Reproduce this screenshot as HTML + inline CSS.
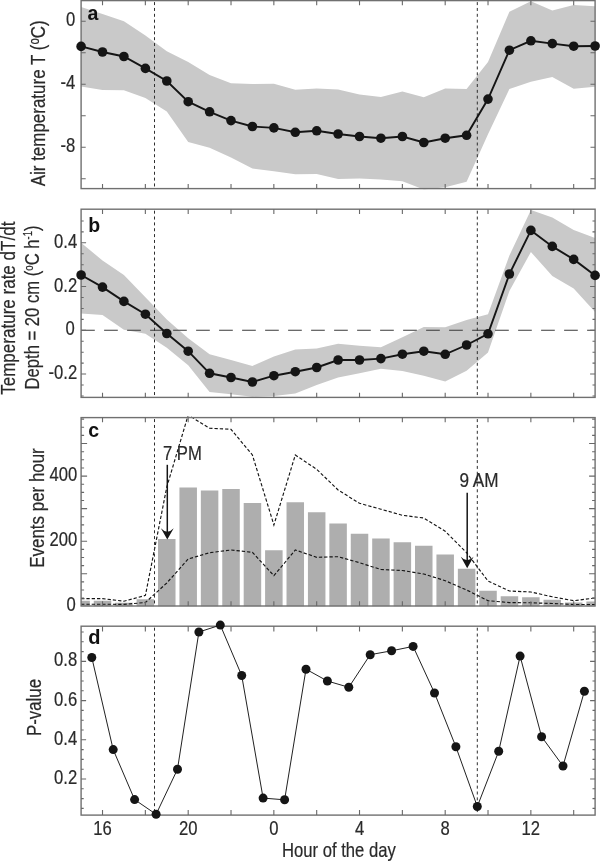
<!DOCTYPE html>
<html><head><meta charset="utf-8"><title>Figure</title>
<style>
html,body{margin:0;padding:0;background:#fff;}
svg{display:block;font-family:"Liberation Sans",sans-serif;fill:#2a2a2a;}
</style></head><body>
<svg width="600" height="861" viewBox="0 0 600 861">
<rect width="600" height="861" fill="#fff"/>
<defs>
<clipPath id="c0"><rect x="81.1" y="-0.9" width="514.0" height="190.5"/></clipPath>
<clipPath id="c1"><rect x="81.1" y="207.7" width="514.0" height="190.7"/></clipPath>
<clipPath id="c2"><rect x="81.1" y="416.1" width="514.0" height="190.89999999999998"/></clipPath>
<clipPath id="c3"><rect x="81.1" y="624.7" width="514.0" height="191.39999999999998"/></clipPath>
</defs>
<polygon clip-path="url(#c0)" fill="#c9c9c9" points="81.1,7.0 102.5,14.0 123.9,21.3 145.4,35.5 166.8,51.3 188.2,62.0 209.6,75.0 231.0,83.2 252.4,84.0 273.9,83.8 295.3,89.7 316.7,88.5 338.1,89.6 359.5,94.5 380.9,96.9 402.4,91.5 423.8,97.3 445.2,88.5 466.6,89.0 488.0,61.9 509.4,11.7 530.9,1.2 552.3,10.5 573.7,5.1 595.1,6.3 595.1,86.8 573.7,88.7 552.3,77.0 530.9,81.7 509.4,88.9 488.0,134.3 466.6,181.8 445.2,187.2 423.8,189.5 402.4,181.3 380.9,179.5 359.5,178.5 338.1,179.0 316.7,173.9 295.3,174.3 273.9,171.3 252.4,168.6 231.0,157.5 209.6,147.8 188.2,142.0 166.8,111.6 145.4,98.0 123.9,90.3 102.5,90.0 81.1,86.5"/>
<path d="M154.5 0.6V188.6" stroke="#2e2e2e" stroke-width="1" stroke-dasharray="3 2.85" stroke-dashoffset="-1.5" fill="none"/>
<path d="M477.3 0.6V188.6" stroke="#2e2e2e" stroke-width="1" stroke-dasharray="3 2.85" stroke-dashoffset="-1.5" fill="none"/>
<rect x="81.1" y="0.6" width="514.0" height="188.0" fill="none" stroke="#707070" stroke-width="1.4"/>
<path d="M102.52 0.6v4.7M102.52 188.6v-4.7M145.35 0.6v4.7M145.35 188.6v-4.7M188.19 0.6v4.7M188.19 188.6v-4.7M231.02 0.6v4.7M231.02 188.6v-4.7M273.85 0.6v4.7M273.85 188.6v-4.7M316.69 0.6v4.7M316.69 188.6v-4.7M359.52 0.6v4.7M359.52 188.6v-4.7M402.36 0.6v4.7M402.36 188.6v-4.7M445.19 0.6v4.7M445.19 188.6v-4.7M488.02 0.6v4.7M488.02 188.6v-4.7M530.86 0.6v4.7M530.86 188.6v-4.7M573.69 0.6v4.7M573.69 188.6v-4.7" stroke="#686868" stroke-width="1.1" fill="none"/>
<path d="M81.1 21.30h4.6M595.1 21.30h-4.6M81.1 52.80h4.6M595.1 52.80h-4.6M81.1 84.30h4.6M595.1 84.30h-4.6M81.1 115.80h4.6M595.1 115.80h-4.6M81.1 147.30h4.6M595.1 147.30h-4.6M81.1 178.80h4.6M595.1 178.80h-4.6" stroke="#686868" stroke-width="1.1" fill="none"/>
<polyline fill="none" stroke="#151515" stroke-width="1.9" points="81.1,46.4 102.5,52.0 123.9,56.5 145.4,68.4 166.8,81.0 188.2,101.7 209.6,111.8 231.0,120.6 252.4,126.5 273.9,127.9 295.3,132.3 316.7,130.8 338.1,134.0 359.5,136.5 380.9,138.2 402.4,136.5 423.8,142.5 445.2,138.2 466.6,135.3 488.0,99.1 509.4,50.2 530.9,40.8 552.3,43.6 573.7,46.2 595.1,46.0"/>
<circle cx="81.1" cy="46.4" r="4.8" fill="#151515"/>
<circle cx="102.5" cy="52.0" r="4.8" fill="#151515"/>
<circle cx="123.9" cy="56.5" r="4.8" fill="#151515"/>
<circle cx="145.4" cy="68.4" r="4.8" fill="#151515"/>
<circle cx="166.8" cy="81.0" r="4.8" fill="#151515"/>
<circle cx="188.2" cy="101.7" r="4.8" fill="#151515"/>
<circle cx="209.6" cy="111.8" r="4.8" fill="#151515"/>
<circle cx="231.0" cy="120.6" r="4.8" fill="#151515"/>
<circle cx="252.4" cy="126.5" r="4.8" fill="#151515"/>
<circle cx="273.9" cy="127.9" r="4.8" fill="#151515"/>
<circle cx="295.3" cy="132.3" r="4.8" fill="#151515"/>
<circle cx="316.7" cy="130.8" r="4.8" fill="#151515"/>
<circle cx="338.1" cy="134.0" r="4.8" fill="#151515"/>
<circle cx="359.5" cy="136.5" r="4.8" fill="#151515"/>
<circle cx="380.9" cy="138.2" r="4.8" fill="#151515"/>
<circle cx="402.4" cy="136.5" r="4.8" fill="#151515"/>
<circle cx="423.8" cy="142.5" r="4.8" fill="#151515"/>
<circle cx="445.2" cy="138.2" r="4.8" fill="#151515"/>
<circle cx="466.6" cy="135.3" r="4.8" fill="#151515"/>
<circle cx="488.0" cy="99.1" r="4.8" fill="#151515"/>
<circle cx="509.4" cy="50.2" r="4.8" fill="#151515"/>
<circle cx="530.9" cy="40.8" r="4.8" fill="#151515"/>
<circle cx="552.3" cy="43.6" r="4.8" fill="#151515"/>
<circle cx="573.7" cy="46.2" r="4.8" fill="#151515"/>
<circle cx="595.1" cy="46.0" r="4.8" fill="#151515"/>
<text transform="translate(75.20,26.30) scale(0.8,1)" font-size="20.8" text-anchor="end" stroke="#2a2a2a" stroke-width="0.22">0</text>
<text transform="translate(75.20,89.30) scale(0.8,1)" font-size="20.8" text-anchor="end" stroke="#2a2a2a" stroke-width="0.22">-4</text>
<text transform="translate(75.20,152.30) scale(0.8,1)" font-size="20.8" text-anchor="end" stroke="#2a2a2a" stroke-width="0.22">-8</text>
<text transform="translate(87.60,19.70) scale(1,1)" font-size="19.5" text-anchor="start" font-weight="bold" fill="#111">a</text>
<text transform="translate(45.20,186.30) rotate(-90) scale(0.816,1)" font-size="20.8" text-anchor="start" stroke="#2a2a2a" stroke-width="0.22">Air temperature T (<tspan font-size="14" dy="-6">o</tspan><tspan dy="6">C)</tspan></text>
<polygon clip-path="url(#c1)" fill="#c9c9c9" points="81.1,242.8 102.5,260.5 123.9,275.0 145.4,297.2 166.8,319.5 188.2,338.3 209.6,354.2 231.0,360.0 252.4,365.9 273.9,356.5 295.3,349.5 316.7,348.4 338.1,343.7 359.5,345.8 380.9,347.2 402.4,337.2 423.8,327.0 445.2,327.3 466.6,320.0 488.0,314.2 509.4,255.5 530.9,210.0 552.3,217.4 573.7,230.0 595.1,238.0 595.1,312.0 573.7,288.6 552.3,276.0 530.9,252.0 509.4,291.0 488.0,352.6 466.6,370.7 445.2,381.6 423.8,375.7 402.4,371.0 380.9,368.7 359.5,373.3 338.1,377.5 316.7,385.0 295.3,393.4 273.9,396.0 252.4,396.7 231.0,394.3 209.6,392.0 188.2,365.2 166.8,347.7 145.4,333.8 123.9,329.8 102.5,315.1 81.1,313.5"/>
<path d="M81.1 330.3H595.1" stroke="#3a3a3a" stroke-width="1.1" stroke-dasharray="13.7 9.3" fill="none"/>
<path d="M154.5 209.2V397.4" stroke="#2e2e2e" stroke-width="1" stroke-dasharray="3 2.85" stroke-dashoffset="-1.5" fill="none"/>
<path d="M477.3 209.2V397.4" stroke="#2e2e2e" stroke-width="1" stroke-dasharray="3 2.85" stroke-dashoffset="-1.5" fill="none"/>
<rect x="81.1" y="209.2" width="514.0" height="188.2" fill="none" stroke="#707070" stroke-width="1.4"/>
<path d="M102.52 209.2v4.7M102.52 397.4v-4.7M145.35 209.2v4.7M145.35 397.4v-4.7M188.19 209.2v4.7M188.19 397.4v-4.7M231.02 209.2v4.7M231.02 397.4v-4.7M273.85 209.2v4.7M273.85 397.4v-4.7M316.69 209.2v4.7M316.69 397.4v-4.7M359.52 209.2v4.7M359.52 397.4v-4.7M402.36 209.2v4.7M402.36 397.4v-4.7M445.19 209.2v4.7M445.19 397.4v-4.7M488.02 209.2v4.7M488.02 397.4v-4.7M530.86 209.2v4.7M530.86 397.4v-4.7M573.69 209.2v4.7M573.69 397.4v-4.7" stroke="#686868" stroke-width="1.1" fill="none"/>
<path d="M81.1 395.93h2.6M595.1 395.93h-2.6M81.1 384.99h2.6M595.1 384.99h-2.6M81.1 363.11h2.6M595.1 363.11h-2.6M81.1 352.18h2.6M595.1 352.18h-2.6M81.1 341.24h2.6M595.1 341.24h-2.6M81.1 319.36h2.6M595.1 319.36h-2.6M81.1 308.43h2.6M595.1 308.43h-2.6M81.1 297.49h2.6M595.1 297.49h-2.6M81.1 275.61h2.6M595.1 275.61h-2.6M81.1 264.68h2.6M595.1 264.68h-2.6M81.1 253.74h2.6M595.1 253.74h-2.6M81.1 231.86h2.6M595.1 231.86h-2.6M81.1 220.93h2.6M595.1 220.93h-2.6" stroke="#686868" stroke-width="1.1" fill="none"/>
<path d="M81.1 374.05h5M595.1 374.05h-5M81.1 330.30h5M595.1 330.30h-5M81.1 286.55h5M595.1 286.55h-5M81.1 242.80h5M595.1 242.80h-5" stroke="#686868" stroke-width="1.1" fill="none"/>
<polyline fill="none" stroke="#151515" stroke-width="1.9" points="81.1,275.0 102.5,287.1 123.9,301.4 145.4,314.2 166.8,333.5 188.2,351.2 209.6,373.3 231.0,377.5 252.4,382.0 273.9,375.7 295.3,371.7 316.7,367.5 338.1,360.0 359.5,360.0 380.9,358.6 402.4,354.2 423.8,351.2 445.2,354.3 466.6,345.0 488.0,333.8 509.4,274.0 530.9,230.4 552.3,246.4 573.7,259.4 595.1,275.4"/>
<circle cx="81.1" cy="275.0" r="4.8" fill="#151515"/>
<circle cx="102.5" cy="287.1" r="4.8" fill="#151515"/>
<circle cx="123.9" cy="301.4" r="4.8" fill="#151515"/>
<circle cx="145.4" cy="314.2" r="4.8" fill="#151515"/>
<circle cx="166.8" cy="333.5" r="4.8" fill="#151515"/>
<circle cx="188.2" cy="351.2" r="4.8" fill="#151515"/>
<circle cx="209.6" cy="373.3" r="4.8" fill="#151515"/>
<circle cx="231.0" cy="377.5" r="4.8" fill="#151515"/>
<circle cx="252.4" cy="382.0" r="4.8" fill="#151515"/>
<circle cx="273.9" cy="375.7" r="4.8" fill="#151515"/>
<circle cx="295.3" cy="371.7" r="4.8" fill="#151515"/>
<circle cx="316.7" cy="367.5" r="4.8" fill="#151515"/>
<circle cx="338.1" cy="360.0" r="4.8" fill="#151515"/>
<circle cx="359.5" cy="360.0" r="4.8" fill="#151515"/>
<circle cx="380.9" cy="358.6" r="4.8" fill="#151515"/>
<circle cx="402.4" cy="354.2" r="4.8" fill="#151515"/>
<circle cx="423.8" cy="351.2" r="4.8" fill="#151515"/>
<circle cx="445.2" cy="354.3" r="4.8" fill="#151515"/>
<circle cx="466.6" cy="345.0" r="4.8" fill="#151515"/>
<circle cx="488.0" cy="333.8" r="4.8" fill="#151515"/>
<circle cx="509.4" cy="274.0" r="4.8" fill="#151515"/>
<circle cx="530.9" cy="230.4" r="4.8" fill="#151515"/>
<circle cx="552.3" cy="246.4" r="4.8" fill="#151515"/>
<circle cx="573.7" cy="259.4" r="4.8" fill="#151515"/>
<circle cx="595.1" cy="275.4" r="4.8" fill="#151515"/>
<text transform="translate(77.20,247.80) scale(0.8,1)" font-size="20.8" text-anchor="end" stroke="#2a2a2a" stroke-width="0.22">0.4</text>
<text transform="translate(77.20,291.55) scale(0.8,1)" font-size="20.8" text-anchor="end" stroke="#2a2a2a" stroke-width="0.22">0.2</text>
<text transform="translate(74.80,335.30) scale(0.8,1)" font-size="20.8" text-anchor="end" stroke="#2a2a2a" stroke-width="0.22">0</text>
<text transform="translate(77.20,379.05) scale(0.8,1)" font-size="20.8" text-anchor="end" stroke="#2a2a2a" stroke-width="0.22">-0.2</text>
<text transform="translate(88.30,231.60) scale(1,1)" font-size="19.5" text-anchor="start" font-weight="bold" fill="#111">b</text>
<text transform="translate(14.80,394.80) rotate(-90) scale(0.819,1)" font-size="20.8" text-anchor="start" stroke="#2a2a2a" stroke-width="0.22">Temperature rate dT/dt</text>
<text transform="translate(38.70,389.50) rotate(-90) scale(0.8,1)" font-size="20.8" text-anchor="start" stroke="#2a2a2a" stroke-width="0.22">Depth = 20 cm (<tspan font-size="12" dy="-6">o</tspan><tspan dy="6">C h</tspan><tspan font-size="12" dy="-7">-1</tspan><tspan dy="7">)</tspan></text>
<path d="M81.10 606.3V600.77H89.85V606.3ZM93.77 606.3V600.77H111.27V606.3ZM115.18 606.3V602.72H132.68V606.3ZM136.60 606.3V599.14H154.10V606.3ZM158.02 606.3V538.92H175.52V606.3ZM179.44 606.3V487.49H196.94V606.3ZM200.85 606.3V490.42H218.35V606.3ZM222.27 606.3V489.12H239.77V606.3ZM243.69 606.3V503.12H261.19V606.3ZM265.10 606.3V550.31H282.60V606.3ZM286.52 606.3V502.14H304.02V606.3ZM307.94 606.3V512.23H325.44V606.3ZM329.35 606.3V523.62H346.85V606.3ZM350.77 606.3V533.71H368.27V606.3ZM372.19 606.3V538.60H389.69V606.3ZM393.61 606.3V542.18H411.11V606.3ZM415.02 606.3V545.76H432.52V606.3ZM436.44 606.3V554.55H453.94V606.3ZM457.86 606.3V568.87H475.36V606.3ZM479.27 606.3V590.68H496.77V606.3ZM500.69 606.3V596.21H518.19V606.3ZM522.11 606.3V597.19H539.61V606.3ZM543.52 606.3V599.79H561.02V606.3ZM564.94 606.3V602.39H582.44V606.3ZM586.36 606.3V601.42H595.10V606.3Z" fill="#aeaeae"/>
<polyline clip-path="url(#c2)" fill="none" stroke="#151515" stroke-width="1.15" stroke-dasharray="3.3 2" points="81.1,598.6 102.5,598.6 123.9,601.2 145.4,595.4 166.8,487.0 188.2,415.0 209.6,428.3 231.0,429.3 252.4,455.0 273.9,525.0 295.3,455.0 316.7,469.3 338.1,490.0 359.5,503.3 380.9,509.2 402.4,515.3 423.8,518.0 445.2,531.3 466.6,552.7 488.0,581.0 509.4,591.0 530.9,592.0 552.3,596.8 573.7,600.7 595.1,598.0"/>
<polyline clip-path="url(#c2)" fill="none" stroke="#151515" stroke-width="1.15" stroke-dasharray="3.3 2" points="81.1,604.2 102.5,604.2 123.9,604.4 145.4,602.5 166.8,583.0 188.2,559.0 209.6,552.7 231.0,550.0 252.4,552.3 273.9,575.7 295.3,550.0 316.7,557.3 338.1,556.7 359.5,562.7 380.9,569.5 402.4,570.5 423.8,574.0 445.2,580.7 466.6,590.0 488.0,600.7 509.4,602.6 530.9,602.8 552.3,603.5 573.7,604.5 595.1,604.5"/>
<path d="M154.5 417.6V606.0" stroke="#2e2e2e" stroke-width="1" stroke-dasharray="3 2.85" stroke-dashoffset="-1.5" fill="none"/>
<path d="M477.3 417.6V606.0" stroke="#2e2e2e" stroke-width="1" stroke-dasharray="3 2.85" stroke-dashoffset="-1.5" fill="none"/>
<rect x="81.1" y="417.6" width="514.0" height="188.39999999999998" fill="none" stroke="#707070" stroke-width="1.4"/>
<path d="M102.52 417.6v4.7M102.52 606.0v-4.7M145.35 417.6v4.7M145.35 606.0v-4.7M188.19 417.6v4.7M188.19 606.0v-4.7M231.02 417.6v4.7M231.02 606.0v-4.7M273.85 417.6v4.7M273.85 606.0v-4.7M316.69 417.6v4.7M316.69 606.0v-4.7M359.52 417.6v4.7M359.52 606.0v-4.7M402.36 417.6v4.7M402.36 606.0v-4.7M445.19 417.6v4.7M445.19 606.0v-4.7M488.02 417.6v4.7M488.02 606.0v-4.7M530.86 417.6v4.7M530.86 606.0v-4.7M573.69 417.6v4.7M573.69 606.0v-4.7" stroke="#686868" stroke-width="1.1" fill="none"/>
<path d="M81.1 598.16h3M595.1 598.16h-3M81.1 590.02h3M595.1 590.02h-3M81.1 581.89h3M595.1 581.89h-3M81.1 565.61h3M595.1 565.61h-3M81.1 557.47h3M595.1 557.47h-3M81.1 549.34h3M595.1 549.34h-3M81.1 533.06h3M595.1 533.06h-3M81.1 524.92h3M595.1 524.92h-3M81.1 516.79h3M595.1 516.79h-3M81.1 500.51h3M595.1 500.51h-3M81.1 492.37h3M595.1 492.37h-3M81.1 484.24h3M595.1 484.24h-3M81.1 467.96h3M595.1 467.96h-3M81.1 459.82h3M595.1 459.82h-3M81.1 451.69h3M595.1 451.69h-3M81.1 435.41h3M595.1 435.41h-3M81.1 427.27h3M595.1 427.27h-3M81.1 419.14h3M595.1 419.14h-3" stroke="#686868" stroke-width="1.1" fill="none"/>
<path d="M81.1 573.75h6M595.1 573.75h-6M81.1 541.20h6M595.1 541.20h-6M81.1 508.65h6M595.1 508.65h-6M81.1 476.10h6M595.1 476.10h-6M81.1 443.55h6M595.1 443.55h-6" stroke="#686868" stroke-width="1.1" fill="none"/>
<text transform="translate(75.70,611.30) scale(0.8,1)" font-size="20.8" text-anchor="end" stroke="#2a2a2a" stroke-width="0.22">0</text>
<text transform="translate(77.20,546.20) scale(0.8,1)" font-size="20.8" text-anchor="end" stroke="#2a2a2a" stroke-width="0.22">200</text>
<text transform="translate(77.20,481.10) scale(0.8,1)" font-size="20.8" text-anchor="end" stroke="#2a2a2a" stroke-width="0.22">400</text>
<text transform="translate(88.20,437.00) scale(1,1)" font-size="19.5" text-anchor="start" font-weight="bold" fill="#111">c</text>
<text transform="translate(43.80,567.70) rotate(-90) scale(0.814,1)" font-size="20.8" text-anchor="start" stroke="#2a2a2a" stroke-width="0.22">Events per hour</text>
<path d="M167.3 464.8V533.6" stroke="#151515" stroke-width="1.5" fill="none"/>
<path d="M167.3 539.6L160.9 528.2Q167.3 535.1 173.70000000000002 528.2Z" fill="#151515"/>
<path d="M467.2 492.7V562.2" stroke="#151515" stroke-width="1.5" fill="none"/>
<path d="M467.2 568.2L460.8 556.8000000000001Q467.2 563.7 473.59999999999997 556.8000000000001Z" fill="#151515"/>
<text transform="translate(163.00,460.20) scale(0.8,1)" font-size="20.8" text-anchor="start" stroke="#2a2a2a" stroke-width="0.22">7 PM</text>
<text transform="translate(459.50,486.60) scale(0.825,1)" font-size="20.8" text-anchor="start" stroke="#2a2a2a" stroke-width="0.22">9 AM</text>
<path d="M154.5 626.2V815.1" stroke="#2e2e2e" stroke-width="1" stroke-dasharray="3 2.85" stroke-dashoffset="-1.5" fill="none"/>
<path d="M477.3 626.2V815.1" stroke="#2e2e2e" stroke-width="1" stroke-dasharray="3 2.85" stroke-dashoffset="-1.5" fill="none"/>
<rect x="81.1" y="626.2" width="514.0" height="188.89999999999998" fill="none" stroke="#707070" stroke-width="1.4"/>
<path d="M102.52 626.2v5.2M102.52 815.1v-5.2M145.35 626.2v5.2M145.35 815.1v-5.2M188.19 626.2v5.2M188.19 815.1v-5.2M231.02 626.2v5.2M231.02 815.1v-5.2M273.85 626.2v5.2M273.85 815.1v-5.2M316.69 626.2v5.2M316.69 815.1v-5.2M359.52 626.2v5.2M359.52 815.1v-5.2M402.36 626.2v5.2M402.36 815.1v-5.2M445.19 626.2v5.2M445.19 815.1v-5.2M488.02 626.2v5.2M488.02 815.1v-5.2M530.86 626.2v5.2M530.86 815.1v-5.2M573.69 626.2v5.2M573.69 815.1v-5.2" stroke="#686868" stroke-width="1.1" fill="none"/>
<path d="M81.1 808.40h2.6M595.1 808.40h-2.6M81.1 798.60h2.6M595.1 798.60h-2.6M81.1 788.80h2.6M595.1 788.80h-2.6M81.1 769.20h2.6M595.1 769.20h-2.6M81.1 759.40h2.6M595.1 759.40h-2.6M81.1 749.60h2.6M595.1 749.60h-2.6M81.1 730.00h2.6M595.1 730.00h-2.6M81.1 720.20h2.6M595.1 720.20h-2.6M81.1 710.40h2.6M595.1 710.40h-2.6M81.1 690.80h2.6M595.1 690.80h-2.6M81.1 681.00h2.6M595.1 681.00h-2.6M81.1 671.20h2.6M595.1 671.20h-2.6M81.1 651.60h2.6M595.1 651.60h-2.6M81.1 641.80h2.6M595.1 641.80h-2.6M81.1 632.00h2.6M595.1 632.00h-2.6" stroke="#686868" stroke-width="1.1" fill="none"/>
<path d="M81.1 779.00h5M595.1 779.00h-5M81.1 739.80h5M595.1 739.80h-5M81.1 700.60h5M595.1 700.60h-5M81.1 661.40h5M595.1 661.40h-5" stroke="#686868" stroke-width="1.1" fill="none"/>
<polyline fill="none" stroke="#151515" stroke-width="0.95" points="91.8,657.5 113.2,749.6 134.6,799.6 156.1,814.3 177.5,769.2 198.9,632.0 220.3,625.1 241.7,675.5 263.1,798.1 284.6,799.8 306.0,669.2 327.4,681.0 348.8,687.3 370.2,654.7 391.6,650.8 413.1,646.4 434.5,693.0 455.9,746.8 477.3,806.5 498.7,751.3 520.1,656.1 541.6,736.7 563.0,766.0 584.4,691.3"/>
<circle cx="91.8" cy="657.5" r="4.5" fill="#151515"/>
<circle cx="113.2" cy="749.6" r="4.5" fill="#151515"/>
<circle cx="134.6" cy="799.6" r="4.5" fill="#151515"/>
<circle cx="156.1" cy="814.3" r="4.5" fill="#151515"/>
<circle cx="177.5" cy="769.2" r="4.5" fill="#151515"/>
<circle cx="198.9" cy="632.0" r="4.5" fill="#151515"/>
<circle cx="220.3" cy="625.1" r="4.5" fill="#151515"/>
<circle cx="241.7" cy="675.5" r="4.5" fill="#151515"/>
<circle cx="263.1" cy="798.1" r="4.5" fill="#151515"/>
<circle cx="284.6" cy="799.8" r="4.5" fill="#151515"/>
<circle cx="306.0" cy="669.2" r="4.5" fill="#151515"/>
<circle cx="327.4" cy="681.0" r="4.5" fill="#151515"/>
<circle cx="348.8" cy="687.3" r="4.5" fill="#151515"/>
<circle cx="370.2" cy="654.7" r="4.5" fill="#151515"/>
<circle cx="391.6" cy="650.8" r="4.5" fill="#151515"/>
<circle cx="413.1" cy="646.4" r="4.5" fill="#151515"/>
<circle cx="434.5" cy="693.0" r="4.5" fill="#151515"/>
<circle cx="455.9" cy="746.8" r="4.5" fill="#151515"/>
<circle cx="477.3" cy="806.5" r="4.5" fill="#151515"/>
<circle cx="498.7" cy="751.3" r="4.5" fill="#151515"/>
<circle cx="520.1" cy="656.1" r="4.5" fill="#151515"/>
<circle cx="541.6" cy="736.7" r="4.5" fill="#151515"/>
<circle cx="563.0" cy="766.0" r="4.5" fill="#151515"/>
<circle cx="584.4" cy="691.3" r="4.5" fill="#151515"/>
<text transform="translate(77.20,784.00) scale(0.8,1)" font-size="20.8" text-anchor="end" stroke="#2a2a2a" stroke-width="0.22">0.2</text>
<text transform="translate(77.20,744.80) scale(0.8,1)" font-size="20.8" text-anchor="end" stroke="#2a2a2a" stroke-width="0.22">0.4</text>
<text transform="translate(77.20,705.60) scale(0.8,1)" font-size="20.8" text-anchor="end" stroke="#2a2a2a" stroke-width="0.22">0.6</text>
<text transform="translate(77.20,666.40) scale(0.8,1)" font-size="20.8" text-anchor="end" stroke="#2a2a2a" stroke-width="0.22">0.8</text>
<text transform="translate(88.20,644.00) scale(1,1)" font-size="20" text-anchor="start" font-weight="bold" fill="#111">d</text>
<text transform="translate(41.00,736.00) rotate(-90) scale(0.81,1)" font-size="20.8" text-anchor="start" stroke="#2a2a2a" stroke-width="0.22">P-value</text>
<text transform="translate(102.52,835.30) scale(0.8,1)" font-size="20.8" text-anchor="middle" stroke="#2a2a2a" stroke-width="0.22">16</text>
<text transform="translate(188.19,835.30) scale(0.8,1)" font-size="20.8" text-anchor="middle" stroke="#2a2a2a" stroke-width="0.22">20</text>
<text transform="translate(273.85,835.30) scale(0.8,1)" font-size="20.8" text-anchor="middle" stroke="#2a2a2a" stroke-width="0.22">0</text>
<text transform="translate(359.52,835.30) scale(0.8,1)" font-size="20.8" text-anchor="middle" stroke="#2a2a2a" stroke-width="0.22">4</text>
<text transform="translate(445.19,835.30) scale(0.8,1)" font-size="20.8" text-anchor="middle" stroke="#2a2a2a" stroke-width="0.22">8</text>
<text transform="translate(530.86,835.30) scale(0.8,1)" font-size="20.8" text-anchor="middle" stroke="#2a2a2a" stroke-width="0.22">12</text>
<text transform="translate(282.00,856.80) scale(0.8,1)" font-size="20.8" text-anchor="start" stroke="#2a2a2a" stroke-width="0.22">Hour of the day</text>
</svg>
</body></html>
